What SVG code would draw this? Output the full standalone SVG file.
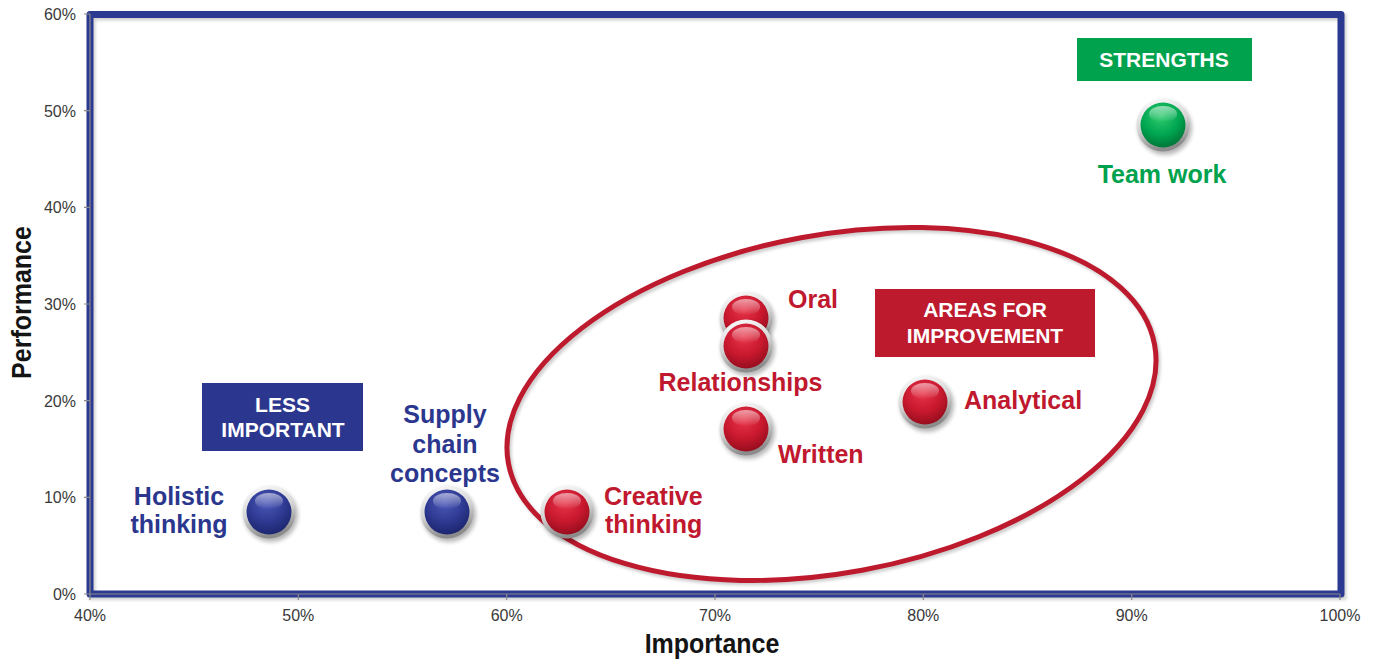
<svg xmlns="http://www.w3.org/2000/svg" xmlns:xlink="http://www.w3.org/1999/xlink" width="1377" height="659" viewBox="0 0 1377 659">
<defs>
<style>
.tick{font-family:"Liberation Sans",Arial,sans-serif;font-size:16px;fill:#3a3a3a}
.ylab{text-anchor:end}
.xlab{text-anchor:middle}
.axt{font-family:"Liberation Sans",Arial,sans-serif;font-size:25px;font-weight:bold;fill:#141414;text-anchor:middle}
.lbl{font-family:"Liberation Sans",Arial,sans-serif;font-size:25px;font-weight:bold}
.red{fill:#C0182E}
.blue{fill:#2B378E}
.green{fill:#00A24E}
.box{font-family:"Liberation Sans",Arial,sans-serif;font-size:21px;font-weight:bold;fill:#ffffff;text-anchor:middle}
.gl{stroke:#8a8a8a;stroke-width:1.2;fill:none}
</style>
<linearGradient id="ring" x1="0" y1="0" x2="0.3" y2="1">
<stop offset="0" stop-color="#ffffff"/>
<stop offset="0.55" stop-color="#d6d6d6"/>
<stop offset="1" stop-color="#8c8c8c"/>
</linearGradient>
<radialGradient id="redBall" cx="0.45" cy="0.3" r="0.75">
<stop offset="0" stop-color="#E8364A"/>
<stop offset="0.55" stop-color="#C8182E"/>
<stop offset="1" stop-color="#8E0C1B"/>
</radialGradient>
<radialGradient id="blueBall" cx="0.45" cy="0.3" r="0.75">
<stop offset="0" stop-color="#4B58B8"/>
<stop offset="0.55" stop-color="#2E3A92"/>
<stop offset="1" stop-color="#1A2268"/>
</radialGradient>
<radialGradient id="greenBall" cx="0.45" cy="0.3" r="0.75">
<stop offset="0" stop-color="#2FCB6E"/>
<stop offset="0.55" stop-color="#00A651"/>
<stop offset="1" stop-color="#006F35"/>
</radialGradient>
<linearGradient id="shine" x1="0" y1="0" x2="0" y2="1">
<stop offset="0" stop-color="#ffffff" stop-opacity="0.55"/>
<stop offset="1" stop-color="#ffffff" stop-opacity="0"/>
</linearGradient>
<filter id="blur" x="-50%" y="-50%" width="200%" height="200%">
<feGaussianBlur stdDeviation="2"/>
</filter>
<filter id="soft" x="-10%" y="-10%" width="120%" height="120%">
<feGaussianBlur stdDeviation="1.5"/>
</filter>
<g id="base">
<circle cx="2" cy="3" r="27" fill="#000" opacity="0.28" filter="url(#blur)"/>
<circle cx="0" cy="0" r="26.5" fill="url(#ring)"/>
</g>
<ellipse id="hl" cx="0" cy="-11" rx="14" ry="8" fill="url(#shine)"/>
</defs>
<rect width="1377" height="659" fill="#ffffff"/>

<!-- frame -->
<g id="frame">
<rect x="92" y="17" width="1251" height="579.5" fill="none" stroke="#000" stroke-opacity="0.18" stroke-width="7" filter="url(#soft)"/>
<rect x="90" y="14.5" width="1251" height="579.5" fill="none" stroke="#2B3990" stroke-width="7" stroke-linejoin="round"/>
<line class="gl" x1="90" y1="14" x2="90" y2="594"/>
<line class="gl" x1="90" y1="594" x2="1340" y2="594"/>
<path class="gl" d="M84 14H90M84 110.7H90M84 207.3H90M84 304H90M84 400.7H90M84 497.3H90M84 594H90"/>
<path class="gl" d="M90 594V600M298.3 594V600M506.7 594V600M715 594V600M923.3 594V600M1131.7 594V600M1340 594V600"/>
</g>

<g id="y-axis">
<text class="tick ylab" x="76" y="20">60%</text>
<text class="tick ylab" x="76" y="116.7">50%</text>
<text class="tick ylab" x="76" y="213.3">40%</text>
<text class="tick ylab" x="76" y="310">30%</text>
<text class="tick ylab" x="76" y="406.7">20%</text>
<text class="tick ylab" x="76" y="503.3">10%</text>
<text class="tick ylab" x="76" y="600">0%</text>
<text class="axt" transform="translate(31,302.5) rotate(-90) scale(1,1.1)">Performance</text>
</g>
<g id="x-axis">
<text class="tick xlab" x="90" y="621">40%</text>
<text class="tick xlab" x="298.3" y="621">50%</text>
<text class="tick xlab" x="506.7" y="621">60%</text>
<text class="tick xlab" x="715" y="621">70%</text>
<text class="tick xlab" x="923.3" y="621">80%</text>
<text class="tick xlab" x="1131.7" y="621">90%</text>
<text class="tick xlab" x="1340" y="621">100%</text>
<text class="axt" transform="translate(712,653) scale(1,1.1)">Importance</text>
</g>

<!-- improvement ellipse -->
<g id="improvement-zone">
<ellipse cx="833.5" cy="406.5" rx="328.5" ry="169" fill="none" stroke="#000" stroke-opacity="0.2" stroke-width="5" filter="url(#soft)" transform="rotate(-10.4 833.5 406.5)"/>
<ellipse cx="831.5" cy="404" rx="328.5" ry="169" fill="none" stroke="#BE1A2E" stroke-width="5" transform="rotate(-10.4 831.5 404)"/>
</g>

<!-- category boxes -->
<g id="box-strengths">
<rect x="1077" y="38" width="175" height="43" fill="#00A24E"/>
<text class="box" x="1164" y="67">STRENGTHS</text>
</g>
<g id="box-improvement">
<rect x="875" y="289" width="220" height="68" fill="#BE1A2E"/>
<text class="box" x="985" y="317">AREAS FOR</text>
<text class="box" x="985" y="343">IMPROVEMENT</text>
</g>
<g id="box-less-important">
<rect x="202" y="383" width="161" height="68" fill="#2B378E"/>
<text class="box" x="282.5" y="411.5">LESS</text>
<text class="box" x="283" y="437">IMPORTANT</text>
</g>

<!-- data points -->
<g id="node-holistic">
<use xlink:href="#base" x="269" y="512"/>
<circle cx="269" cy="512" r="22.5" fill="url(#blueBall)"/>
<use xlink:href="#hl" x="269" y="512"/>
<text class="lbl blue" x="179" y="505" text-anchor="middle">Holistic</text>
<text class="lbl blue" x="179" y="533" text-anchor="middle">thinking</text>
</g>
<g id="node-supply-chain">
<use xlink:href="#base" x="447" y="512"/>
<circle cx="447" cy="512" r="22.5" fill="url(#blueBall)"/>
<use xlink:href="#hl" x="447" y="512"/>
<text class="lbl blue" x="445" y="423" text-anchor="middle">Supply</text>
<text class="lbl blue" x="445" y="453" text-anchor="middle">chain</text>
<text class="lbl blue" x="445" y="482" text-anchor="middle">concepts</text>
</g>
<g id="node-creative">
<use xlink:href="#base" x="567" y="512"/>
<circle cx="567" cy="512" r="22.5" fill="url(#redBall)"/>
<use xlink:href="#hl" x="567" y="512"/>
<text class="lbl red" x="604" y="505">Creative</text>
<text class="lbl red" x="605" y="533">thinking</text>
</g>
<g id="node-oral">
<use xlink:href="#base" x="746" y="318"/>
<circle cx="746" cy="318" r="22.5" fill="url(#redBall)"/>
<use xlink:href="#hl" x="746" y="318"/>
<text class="lbl red" x="788" y="308">Oral</text>
</g>
<g id="node-relationships">
<use xlink:href="#base" x="746" y="346"/>
<circle cx="746" cy="346" r="22.5" fill="url(#redBall)"/>
<use xlink:href="#hl" x="746" y="346"/>
<text class="lbl red" x="740.5" y="391" text-anchor="middle">Relationships</text>
</g>
<g id="node-written">
<use xlink:href="#base" x="746" y="429"/>
<circle cx="746" cy="429" r="22.5" fill="url(#redBall)"/>
<use xlink:href="#hl" x="746" y="429"/>
<text class="lbl red" x="778" y="463">Written</text>
</g>
<g id="node-analytical">
<use xlink:href="#base" x="925" y="402"/>
<circle cx="925" cy="402" r="22.5" fill="url(#redBall)"/>
<use xlink:href="#hl" x="925" y="402"/>
<text class="lbl red" x="964" y="409">Analytical</text>
</g>
<g id="node-teamwork">
<use xlink:href="#base" x="1163" y="125"/>
<circle cx="1163" cy="125" r="22.5" fill="url(#greenBall)"/>
<use xlink:href="#hl" x="1163" y="125"/>
<text class="lbl green" x="1162" y="183" text-anchor="middle">Team work</text>
</g>
</svg>
